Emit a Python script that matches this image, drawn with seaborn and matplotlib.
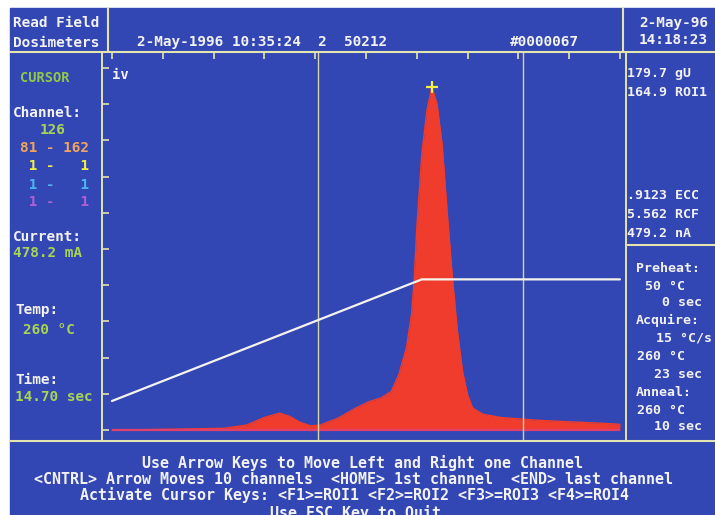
import numpy as np
import pandas as pd
import matplotlib
matplotlib.use('Agg')
import matplotlib.pyplot as plt
import seaborn as sns
from matplotlib.patches import Rectangle
from matplotlib.lines import Line2D

# glow curve (channel vs counts)
channels = [0, 44, 53, 60, 66, 70, 74, 78, 82, 89, 96, 101, 106, 110, 113, 116, 118, 119, 120,
            122, 124, 126, 128, 130, 132, 134, 136, 138, 140, 142, 146, 153, 166, 180, 193, 200]
counts = [0, 5, 14, 35, 47, 38, 22, 12, 14, 33, 61, 78, 89, 107, 154, 229, 322, 415, 555,
          761, 882, 947, 900, 789, 602, 425, 275, 164, 98, 61, 44, 35, 28, 23, 19, 16]

# heating profile (channel vs temperature C)
temp_ch = [0, 122, 200]
temp_c = [50, 260, 260]

roi = [81, 162]
cursor_ch = 126

W, H = 715, 515
BLUE = '#3246b4'
LINE = '#e4e4b0'
WHITE = '#f2f2f2'
GREEN = '#a8d454'

sns.set_style('white')
plt.rcParams['font.family'] = ['DejaVu Sans Mono']

fig = plt.figure(figsize=(W / 100, H / 100), dpi=100, facecolor='white')
bg = Rectangle((10 / W, 0), (W - 10) / W, (H - 8) / H,
               transform=fig.transFigure, color=BLUE, zorder=-10)
fig.add_artist(bg)

ax = fig.add_axes([102 / W, 1 - 441 / H, (626 - 102) / W, (441 - 52) / H])
ax.set_zorder(2)
ax.set_facecolor(BLUE)
df = pd.DataFrame({'channel': channels, 'counts': counts})
ax.fill_between(df['channel'], 0, df['counts'], color='#f03c2c', lw=0)
sns.lineplot(data=df, x='channel', y='counts', ax=ax, color='#f03c2c', lw=1)
ax.hlines(0, 0, 200, color='#e0406c', lw=1.6)
for r in roi:
    ax.axvline(r, color='#d6d6a4', lw=1)
peak = counts[channels.index(cursor_ch)]
ax.plot(cursor_ch, peak, marker='+', color='#f4f040', ms=9, mew=1.6)

ax.set_xlim(-3.9, 202.4)
ax.set_ylim(-30, 1044)
ax.set_xticks(range(0, 201, 20))
ax.set_yticks(range(0, 1001, 100))
ax.tick_params(direction='in', length=5, width=1.2, color=LINE, top=True, right=True,
               labelleft=False, labelbottom=False)
ax.set_xlabel('')
ax.set_ylabel('')
for s in ax.spines.values():
    s.set_color(LINE)
    s.set_linewidth(1.4)
ax.text(0, 980, 'iv', color=WHITE, fontsize=10, fontweight='bold', va='center')

ax2 = ax.twinx()
ax2.set_zorder(3)
tdf = pd.DataFrame({'channel': temp_ch, 'temp': temp_c})
sns.lineplot(data=tdf, x='channel', y='temp', ax=ax2, color='#f4f4ec', lw=1.6)
ax2.set_ylim(-19, 652.5)
ax2.set_yticks([])
ax2.set_ylabel('')
for s in ax2.spines.values():
    s.set_visible(False)

# frame lines of the screen
def fline(x0, x1, y0, y1, lw=1.5):
    fig.add_artist(Line2D([x0 / W, x1 / W], [1 - y0 / H, 1 - y1 / H],
                          transform=fig.transFigure, color=LINE, lw=lw, zorder=5))

fline(10, W, 52, 52)
fline(10, W, 441, 441)
fline(108, 108, 8, 52)
fline(623, 623, 8, 52)
fline(626, W, 245, 245)


def put(px, py, s, color=WHITE, size=10.4, ha='left'):
    fig.text(px / W, 1 - py / H, s, color=color, fontsize=size, fontweight='bold',
             ha=ha, va='center', zorder=6)

# header
put(13, 23, 'Read Field')
put(13, 43, 'Dosimeters')
put(137, 42, '2-May-1996 10:35:24  2  50212')
put(510, 42, '#0000067')
put(708, 23, '2-May-96', ha='right')
put(708, 40, '14:18:23', ha='right')

# left panel
put(20, 78, 'CURSOR', '#92c84a', 9.8)
put(13, 113, 'Channel:')
put(40, 130, '126', GREEN)
put(20, 148, '81 - 162', '#f2a45c')
put(20, 166, ' 1 -   1', '#f2ee48')
put(20, 185, ' 1 -   1', '#4cb4f2')
put(20, 202, ' 1 -   1', '#b060d4')
put(13, 237, 'Current:')
put(13, 253, '478.2 mA', GREEN)
put(15, 310, 'Temp:')
put(23, 330, '260 °C', GREEN)
put(15, 380, 'Time:')
put(15, 397, '14.70 sec', GREEN)

# right panel
rs = 9.5
put(627, 74, '179.7 gU', size=rs)
put(627, 92, '164.9 ROI1', size=rs)
put(627, 196, '.9123 ECC', size=rs)
put(627, 214, '5.562 RCF', size=rs)
put(627, 233, '479.2 nA', size=rs)
put(636, 268, 'Preheat:', size=rs)
put(685, 287, '50 °C', size=rs, ha='right')
put(702, 303, '0 sec', size=rs, ha='right')
put(636, 320, 'Acquire:', size=rs)
put(712, 338, '15 °C/s', size=rs, ha='right')
put(685, 357, '260 °C', size=rs, ha='right')
put(702, 374, '23 sec', size=rs, ha='right')
put(636, 393, 'Anneal:', size=rs)
put(685, 410, '260 °C', size=rs, ha='right')
put(702, 427, '10 sec', size=rs, ha='right')

# footer
fs = 10.8
put(362, 463, 'Use Arrow Keys to Move Left and Right one Channel', size=fs, ha='center')
put(354, 479, '<CNTRL> Arrow Moves 10 channels  <HOME> 1st channel  <END> last channel',
    size=fs, ha='center')
put(354, 495, 'Activate Cursor Keys: <F1>=ROI1 <F2>=ROI2 <F3>=ROI3 <F4>=ROI4', size=fs, ha='center')
put(356, 513, 'Use ESC Key to Quit', size=fs, ha='center')

fig.savefig('out.png', dpi=100, facecolor='white')
